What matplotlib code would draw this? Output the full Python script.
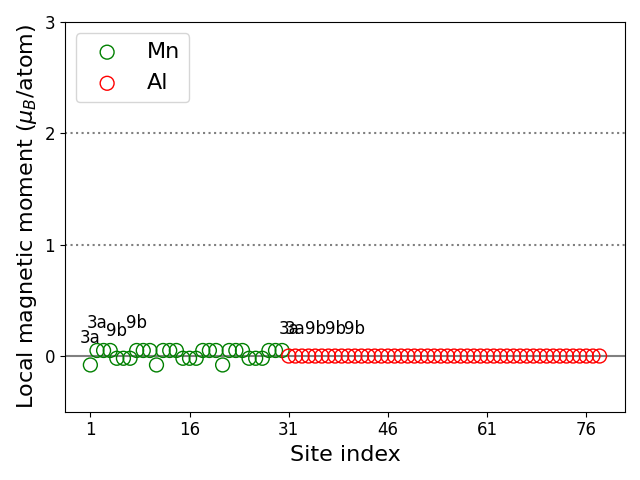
import numpy as np
import matplotlib.pyplot as plt

# local moments (muB/atom)
mn_sites = list(range(1, 31))
mn_moments = [-0.08, 0.05, 0.05, 0.05, -0.02, -0.02, -0.02, 0.05, 0.05, 0.05,
              -0.08, 0.05, 0.05, 0.05, -0.02, -0.02, -0.02, 0.05, 0.05, 0.05,
              -0.08, 0.05, 0.05, 0.05, -0.02, -0.02, -0.02, 0.05, 0.05, 0.05]
al_sites = list(range(31, 79))
al_moments = [0.0] * 48

# Wyckoff labels shown above some sites
label_sites = [1, 2, 5, 8, 31, 32, 35, 38, 41]
label_texts = ["3a", "3a", "9b", "9b", "3a", "3a", "9b", "9b", "9b"]

xticks = [1, 16, 31, 46, 61, 76]


def plot_moments():
    fig, ax = plt.subplots(figsize=(6.4, 4.8), dpi=100)

    ax.axhline(0, color="gray", lw=1.5, zorder=0)
    ax.axhline(1, color="gray", ls=":", lw=1.5, zorder=0)
    ax.axhline(2, color="gray", ls=":", lw=1.5, zorder=0)

    ax.scatter(mn_sites, mn_moments, s=100, facecolors="none",
               edgecolors="green", label="Mn")
    ax.scatter(al_sites, al_moments, s=100, facecolors="none",
               edgecolors="red", label="Al")

    all_sites = mn_sites + al_sites
    all_moments = mn_moments + al_moments
    for site, text in zip(label_sites, label_texts):
        val = all_moments[all_sites.index(site)]
        ax.text(site, val + 0.2, text, ha="center", fontsize=12)

    ax.set_ylim(-0.5, 3)
    ax.set_yticks([0, 1, 2, 3])
    ax.set_xticks(xticks)
    ax.tick_params(labelsize=12)
    ax.set_xlabel("Site index", fontsize=16)
    ax.set_ylabel(r"Local magnetic moment ($\mu_B$/atom)", fontsize=16)
    ax.legend(loc="upper left", fontsize=16)

    fig.tight_layout()
    fig.savefig("out.png")


if __name__ == "__main__":
    plot_moments()
